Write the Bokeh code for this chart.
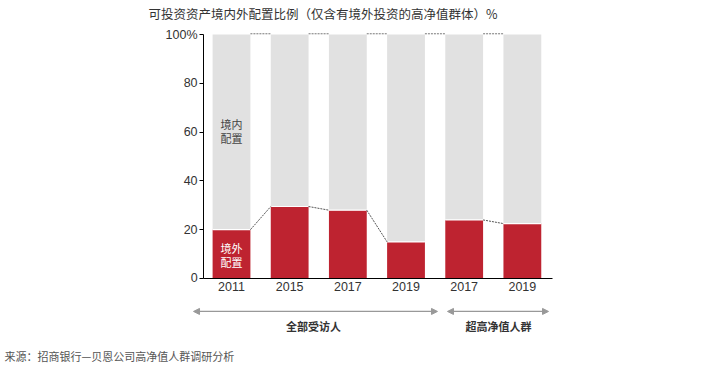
from bokeh.plotting import figure
from bokeh.models import (Range1d, FixedTicker, Label, Arrow, NormalHead,
                          ColumnDataSource, Title, LinearAxis)
from bokeh.embed import file_html
from bokeh.resources import INLINE

# ---- data ----
categories = ["2011", "2015", "2017", "2019", "2017", "2019"]
overseas = [20, 29.5, 28, 15, 24, 22.5]          # 境外配置 %
groups = ["全部受访人", "超高净值人群"]
group_members = [[0, 1, 2, 3], [4, 5]]
y_ticks = [0, 20, 40, 60, 80, 100]
y_tick_labels = ["0", "20", "40", "60", "80", "100%"]

RED = "#BE2330"
GREY = "#E1E1E1"
CJK = "Noto Sans CJK SC"
LAT = "Liberation Sans"

xs = list(range(len(categories)))
W = 0.65

p = figure(width=700, height=381, output_backend="svg", toolbar_location=None,
           x_range=Range1d(-1.255, 5.587), y_range=Range1d(-27.46, 104.1),
           x_axis_location=None,
           min_border_left=158, min_border_right=144, min_border_top=24,
           min_border_bottom=36, outline_line_color=None)
p.grid.visible = False

src = ColumnDataSource(dict(x=xs, ov=overseas, top=[100] * len(xs)))
p.vbar(x="x", width=W, bottom="ov", top="top", source=src, fill_color=GREY, line_color=None)
p.vbar(x="x", width=W, bottom=0, top="ov", source=src, fill_color=RED, line_color=None)
p.segment(x0=[x - W / 2 for x in xs], y0=overseas, x1=[x + W / 2 for x in xs], y1=overseas,
          line_color="white", line_width=1.2)

# connectors at 100%
p.segment(x0=[x + W / 2 for x in xs[:-1]], y0=[100.3] * (len(xs) - 1),
          x1=[x + 1 - W / 2 for x in xs[:-1]], y1=[100.3] * (len(xs) - 1),
          line_color="#777777", line_width=1, line_dash="2 1")
# connectors between overseas tops within groups
cx0, cy0, cx1, cy1 = [], [], [], []
for g in group_members:
    for a, b in zip(g[:-1], g[1:]):
        cx0.append(a + W / 2); cy0.append(overseas[a])
        cx1.append(b - W / 2); cy1.append(overseas[b])
p.segment(x0=cx0, y0=cy0, x1=cx1, y1=cy1, line_color="#555555", line_width=1, line_dash="2 1")

# y axis
p.yaxis.fixed_location = -0.48
p.yaxis.ticker = FixedTicker(ticks=y_ticks)
p.yaxis.major_label_overrides = {t: l for t, l in zip(y_ticks, y_tick_labels)}
p.yaxis.bounds = (0, 100)
p.yaxis.minor_tick_line_color = None
p.yaxis.major_tick_in = 0
p.yaxis.major_tick_out = 4
p.yaxis.axis_line_color = "black"
p.yaxis.major_tick_line_color = "black"
p.yaxis.major_label_text_font = LAT
p.yaxis.major_label_text_font_size = "12.5px"
p.yaxis.major_label_text_color = "#333333"
p.yaxis.major_label_standoff = 2

# title (above) and source (below, nearest the frame)
p.add_layout(Title(text="可投资资产境内外配置比例（仅含有境外投资的高净值群体）%",
                   align="left", offset=-10, standoff=3, text_font=CJK,
                   text_font_size="12.5px", text_font_style="normal",
                   text_color="#333333"), "above")
p.add_layout(Title(text="来源：招商银行—贝恩公司高净值人群调研分析",
                   align="left", offset=-154, standoff=0, text_font=CJK,
                   text_font_size="11px", text_font_style="normal",
                   text_color="#555555"), "below")

# x axis at y = 0
xaxis = LinearAxis(fixed_location=0, bounds=(-0.48, 5.52))
xaxis.ticker = FixedTicker(ticks=xs)
xaxis.major_label_overrides = {x: c for x, c in zip(xs, categories)}
xaxis.minor_tick_line_color = None
xaxis.major_tick_in = 0
xaxis.major_tick_out = 0
xaxis.axis_line_color = "black"
xaxis.major_label_text_font = LAT
xaxis.major_label_text_font_size = "12.5px"
xaxis.major_label_text_color = "#333333"
xaxis.major_label_standoff = 4
p.add_layout(xaxis, "below")

# in-bar labels
for t, y, c in [("境内", 63.5, "#444444"), ("配置", 57.5, "#444444"),
                ("境外", 12.7, "white"), ("配置", 6.6, "white")]:
    p.add_layout(Label(x=0, y=y, text=t, text_font=CJK, text_font_size="11px",
                       text_color=c, text_align="center", text_baseline="middle"))

# group arrows and labels
arrow_spans = [(-0.653, 3.541), (3.713, 5.45)]
for (a, b), g, mid in zip(arrow_spans, groups, [1.41, 4.59]):
    p.add_layout(Arrow(x_start=a, y_start=-13.5, x_end=b, y_end=-13.5,
                       line_color="#999999", line_width=1.2,
                       start=NormalHead(size=6, fill_color="#999999", line_color="#999999"),
                       end=NormalHead(size=6, fill_color="#999999", line_color="#999999")))
    p.add_layout(Label(x=mid, y=-19.3, text=g, text_font=CJK, text_font_size="11px",
                       text_font_style="bold", text_color="#333333",
                       text_align="center", text_baseline="middle"))

open("out.html", "w").write(file_html(p, INLINE))
